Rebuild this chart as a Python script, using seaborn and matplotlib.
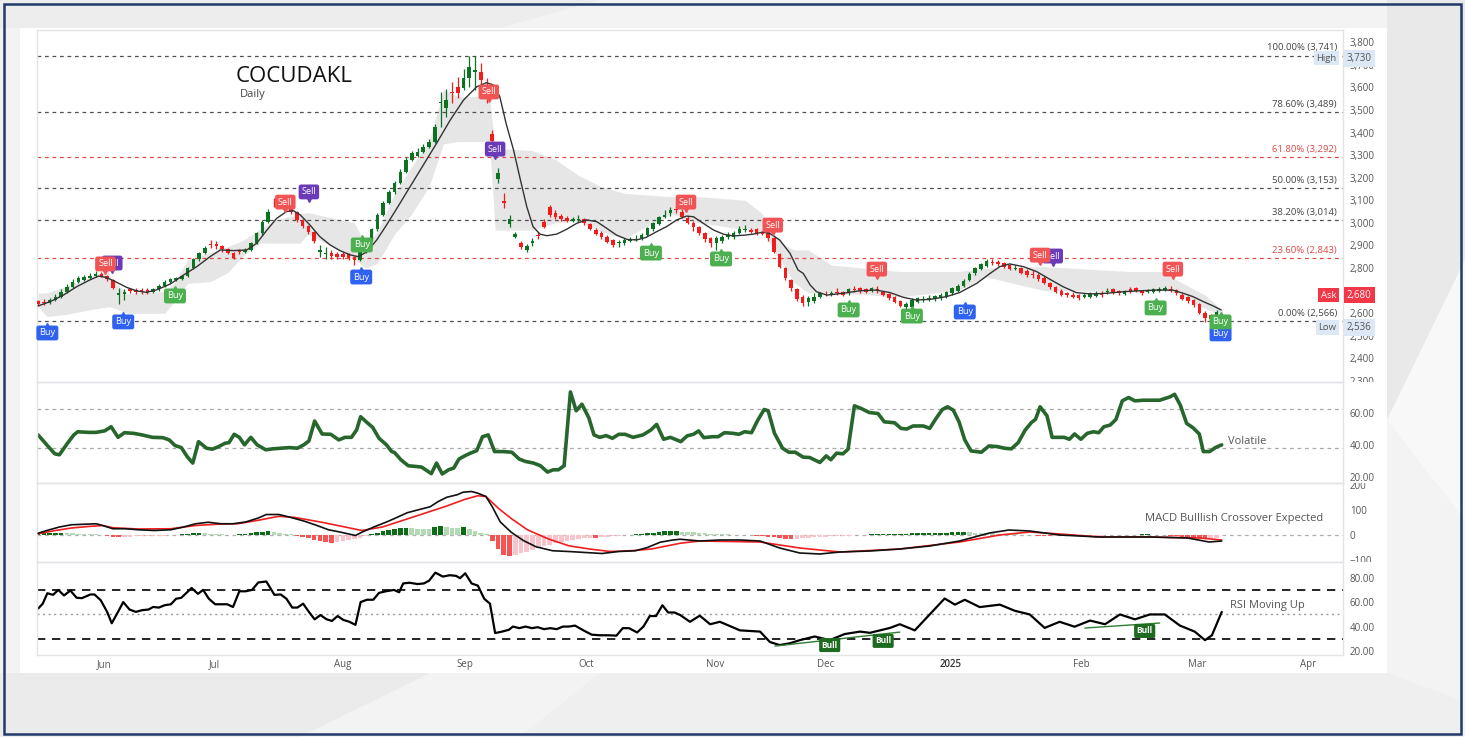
import numpy as np
import pandas as pd
import matplotlib
matplotlib.use("Agg")
import matplotlib.pyplot as plt
import matplotlib.transforms as mtrans
from matplotlib.patches import Rectangle, Polygon
import seaborn as sns

sns.set_style("white")
plt.rcParams['font.family'] = ['Open Sans', 'DejaVu Sans']

# ---------------- data ----------------
# daily candles, one per trading day, index 0..205
close = [2640, 2646, 2658, 2673, 2695, 2717, 2739, 2754, 2759, 2764,
         2772, 2766, 2750, 2713, 2688, 2695, 2698, 2695, 2695, 2695,
         2705, 2720, 2739, 2750, 2754, 2764, 2798, 2838, 2865, 2887,
         2902, 2897, 2883, 2868, 2846, 2872, 2880, 2909, 2953, 3005,
         3050, 3086, 3086, 3082, 3050, 3013, 2986, 2961, 2920, 2880,
         2868, 2853, 2850, 2850, 2846, 2835, 2872, 2924, 2971, 3035,
         3089, 3135, 3175, 3227, 3278, 3308, 3315, 3338, 3360, 3426,
         3537, 3545, 3577, 3574, 3640, 3690, 3677, 3633, 3560, 3364,
         3222, 3086, 3015, 2950, 2891, 2897, 2920, 2942, 2983, 3035,
         3024, 3015, 3010, 3018, 3018, 2998, 2974, 2950, 2936, 2915,
         2902, 2915, 2926, 2926, 2930, 2946, 2975, 2998, 3024, 3035,
         3057, 3055, 3027, 3001, 2980, 2956, 2930, 2909, 2931, 2938,
         2944, 2953, 2971, 2974, 2961, 2953, 2952, 2931, 2872, 2806,
         2754, 2710, 2661, 2643, 2665, 2673, 2688, 2682, 2691, 2688,
         2682, 2705, 2702, 2699, 2695, 2710, 2699, 2680, 2665, 2651,
         2632, 2640, 2658, 2665, 2664, 2668, 2676, 2680, 2693, 2710,
         2720, 2744, 2773, 2798, 2816, 2831, 2822, 2818, 2806, 2797,
         2802, 2779, 2769, 2767, 2750, 2735, 2714, 2694, 2682, 2679,
         2673, 2667, 2679, 2688, 2683, 2679, 2698, 2692, 2688, 2697,
         2694, 2698, 2688, 2701, 2705, 2708, 2711, 2699, 2688, 2664,
         2652, 2634, 2602, 2577, 2572, 2606]
open_ = [2652, 2650, 2646, 2658, 2673, 2695, 2717, 2739, 2748, 2755,
         2764, 2772, 2766, 2748, 2680, 2686, 2706, 2704, 2704, 2703,
         2695, 2705, 2720, 2739, 2748, 2752, 2764, 2798, 2838, 2865,
         2906, 2906, 2897, 2883, 2868, 2876, 2870, 2880, 2909, 2953,
         3005, 3090, 3100, 3095, 3082, 3050, 3013, 2986, 2961, 2870,
         2864, 2866, 2862, 2862, 2860, 2850, 2835, 2872, 2924, 2971,
         3035, 3089, 3135, 3175, 3227, 3278, 3296, 3315, 3338, 3360,
         3530, 3510, 3580, 3600, 3596, 3640, 3670, 3670, 3610, 3394,
         3193, 3098, 2995, 2938, 2912, 2880, 2909, 2946, 3005, 3072,
         3045, 3030, 3020, 3010, 3014, 3015, 2994, 2970, 2956, 2938,
         2924, 2910, 2909, 2921, 2924, 2931, 2946, 2971, 2995, 3027,
         3042, 3060, 3049, 3023, 3001, 2980, 2953, 2931, 2909, 2921,
         2938, 2936, 2956, 2968, 2968, 2971, 2958, 2961, 2931, 2862,
         2798, 2747, 2705, 2673, 2650, 2655, 2670, 2686, 2680, 2695,
         2692, 2688, 2708, 2710, 2708, 2699, 2705, 2695, 2685, 2670,
         2654, 2625, 2625, 2651, 2658, 2662, 2661, 2665, 2673, 2688,
         2700, 2720, 2747, 2776, 2794, 2809, 2828, 2825, 2820, 2812,
         2796, 2798, 2788, 2775, 2769, 2757, 2735, 2714, 2700, 2690,
         2680, 2679, 2673, 2673, 2677, 2691, 2692, 2705, 2699, 2685,
         2708, 2710, 2699, 2695, 2694, 2700, 2702, 2705, 2702, 2682,
         2670, 2658, 2640, 2602, 2592, 2584]
high = [2660, 2662, 2668, 2685, 2705, 2728, 2750, 2766, 2770, 2776,
        2785, 2780, 2770, 2752, 2712, 2705, 2712, 2712, 2712, 2712,
        2712, 2728, 2746, 2756, 2760, 2770, 2804, 2846, 2872, 2896,
        2925, 2918, 2902, 2888, 2872, 2885, 2888, 2916, 2960, 3012,
        3062, 3110, 3110, 3105, 3088, 3054, 3018, 2990, 2965, 2900,
        2895, 2880, 2872, 2870, 2866, 2855, 2878, 2930, 2978, 3042,
        3098, 3146, 3186, 3240, 3290, 3320, 3330, 3350, 3372, 3440,
        3580, 3595, 3625, 3645, 3680, 3740, 3741, 3710, 3640, 3410,
        3245, 3133, 3035, 2960, 2920, 2905, 2935, 2960, 3015, 3080,
        3056, 3040, 3030, 3028, 3035, 3022, 3000, 2976, 2962, 2945,
        2930, 2925, 2935, 2938, 2945, 2955, 2980, 3005, 3032, 3055,
        3070, 3075, 3060, 3030, 3008, 2986, 2960, 2936, 2940, 2945,
        2960, 2962, 2985, 2990, 2978, 2978, 2965, 2968, 2936, 2868,
        2805, 2752, 2712, 2680, 2675, 2690, 2695, 2700, 2698, 2710,
        2700, 2712, 2720, 2715, 2712, 2715, 2720, 2700, 2690, 2676,
        2660, 2648, 2666, 2672, 2676, 2680, 2682, 2690, 2700, 2716,
        2728, 2750, 2780, 2805, 2822, 2838, 2840, 2836, 2828, 2818,
        2812, 2805, 2795, 2790, 2776, 2763, 2740, 2720, 2705, 2695,
        2692, 2684, 2690, 2694, 2700, 2696, 2712, 2710, 2704, 2702,
        2715, 2715, 2704, 2708, 2710, 2714, 2718, 2720, 2706, 2688,
        2676, 2663, 2646, 2608, 2598, 2612]
low = [2630, 2636, 2640, 2652, 2668, 2690, 2712, 2734, 2742, 2750,
       2758, 2758, 2742, 2705, 2640, 2660, 2688, 2686, 2685, 2686,
       2690, 2700, 2716, 2734, 2744, 2748, 2760, 2794, 2832, 2860,
       2888, 2885, 2872, 2860, 2838, 2860, 2866, 2876, 2905, 2948,
       3000, 3070, 3076, 3070, 3040, 3005, 2978, 2952, 2912, 2848,
       2840, 2840, 2838, 2838, 2834, 2815, 2830, 2866, 2918, 2965,
       3030, 3084, 3130, 3170, 3222, 3272, 3290, 3310, 3332, 3354,
       3425, 3470, 3530, 3555, 3590, 3600, 3590, 3610, 3530, 3345,
       3175, 3064, 2983, 2931, 2885, 2873, 2898, 2930, 2975, 3025,
       3015, 3008, 3003, 3003, 3005, 2992, 2968, 2944, 2930, 2910,
       2895, 2895, 2900, 2915, 2918, 2925, 2940, 2965, 2990, 3020,
       3030, 3045, 3020, 2995, 2965, 2945, 2915, 2895, 2880, 2912,
       2930, 2928, 2950, 2960, 2955, 2946, 2945, 2920, 2866, 2800,
       2745, 2700, 2655, 2630, 2630, 2645, 2665, 2676, 2674, 2680,
       2675, 2682, 2695, 2690, 2688, 2692, 2690, 2675, 2660, 2645,
       2625, 2618, 2612, 2645, 2650, 2655, 2655, 2660, 2668, 2682,
       2695, 2715, 2742, 2770, 2790, 2804, 2815, 2810, 2800, 2790,
       2790, 2772, 2762, 2755, 2742, 2728, 2708, 2688, 2676, 2672,
       2665, 2660, 2665, 2668, 2670, 2673, 2685, 2686, 2682, 2680,
       2688, 2692, 2682, 2688, 2688, 2695, 2697, 2694, 2682, 2658,
       2646, 2628, 2596, 2560, 2536, 2570]

# smoothed average line (knots: bar index, price)
ma_x = [0, 2.1, 4.4, 6.7, 9, 10.5, 11.7, 13.1, 15.4, 17.2, 18.9, 20.6, 23, 25.3, 27.6, 29.9,
        31.7, 34, 36.3, 38, 39.8, 41.5, 43.2, 44.4, 45.6, 47.3, 49, 50.8, 52.5, 54.3, 55.7,
        57.2, 58.9, 60.6, 62.4, 64.7, 67, 69.3, 71.7, 74, 76.3, 78, 79.2, 80.3, 81.4, 82.7,
        83.9, 85, 86.1, 87.3, 88.5, 90.2, 91.9, 93.7, 95.4, 97.2, 98.9, 100.6, 102.4, 104.1,
        105.8, 107.6, 109.3, 111.1, 112.8, 114, 115.7, 117.5, 119.2, 120.9, 122.7, 124.4,
        126.1, 127.3, 129, 130.8, 132.2, 133.1, 134.3, 135.4, 137.2, 140.1, 142.9, 145.8,
        148.2, 150.5, 152.8, 155.2, 158, 160.3, 163.3, 165.6, 167.3, 169, 171.4, 173.7, 176,
        178.3, 180.6, 183, 185.9, 188.8, 191.7, 194.5, 197.4, 199.2, 200.9, 202.7, 204.4, 205.8]
ma_y = [2632, 2651, 2680, 2717, 2747, 2764, 2759, 2744, 2714, 2698, 2692, 2703, 2729, 2769, 2806, 2850,
        2880, 2877, 2880, 2909, 2968, 3020, 3050, 3054, 3035, 2990, 2939, 2902, 2877, 2858, 2850,
        2872, 2924, 2990, 3064, 3160, 3256, 3352, 3456, 3544, 3603, 3621, 3611, 3560, 3441, 3323,
        3190, 3072, 2983, 2950, 2943, 2950, 2971, 2998, 3013, 3005, 2976, 2946, 2927, 2924,
        2936, 2961, 2983, 3013, 3030, 3027, 2998, 2968, 2950, 2942, 2945, 2950,
        2959, 2953, 2924, 2865, 2791, 2776, 2725, 2695, 2680, 2688, 2699, 2702,
        2691, 2670, 2658, 2661, 2673, 2691, 2732, 2776, 2806, 2818, 2806, 2784, 2750,
        2717, 2691, 2685, 2688, 2695, 2699, 2702, 2702, 2688, 2673, 2651, 2632, 2614]

# grey cloud band (knots)
cloud_x = [0, 1.5, 5, 9, 12.2, 12.6, 15.5, 22, 23.5, 26, 30, 33, 35.5, 38.5, 41, 45.5, 47, 55,
           57, 59, 62, 65, 68, 70.5, 73, 78.5, 79.5, 86, 90, 94, 98, 102, 110, 115, 123, 126,
           128, 130, 131.5, 134, 138, 150, 160, 165, 175, 190, 196, 198, 203, 206]
cloud_hi = [2688, 2690, 2720, 2760, 2790, 2754, 2688, 2695, 2730, 2835, 2870, 2895, 2920, 2970,
            3010, 3040, 3045, 3000, 2900, 2960, 3130, 3250, 3360, 3590, 3560, 3560, 3330, 3320,
            3280, 3210, 3160, 3131, 3116, 3116, 3100, 3040, 2950, 2900, 2880, 2880, 2813, 2784,
            2784, 2800, 2806, 2784, 2784, 2747, 2680, 2614]
cloud_lo = [2628, 2585, 2595, 2615, 2628, 2628, 2599, 2599, 2645, 2732, 2740, 2780, 2850, 2910,
            2910, 2910, 2950, 2840, 2800, 2820, 2950, 3040, 3160, 3350, 3360, 3360, 2968, 2968,
            3000, 3010, 2960, 2930, 3040, 3000, 2970, 2960, 2880, 2800, 2735, 2690, 2690, 2673,
            2700, 2760, 2700, 2695, 2700, 2690, 2620, 2590]

# fibonacci levels
fib_pct = ["100.00%", "78.60%", "61.80%", "50.00%", "38.20%", "23.60%", "0.00%"]
fib_lvl = [3741, 3489, 3292, 3153, 3014, 2843, 2566]
fib_red = [False, False, True, False, False, True, False]

# buy / sell flags (bar index, price, kind)
sig_x = [12.9, 47.1, 79.5, 176.5,
         1.6, 11.7, 14.8, 23.8, 43, 56.3, 56.2, 78.4, 106.6, 112.7, 118.8, 127.8, 145.9,
         141, 152, 161.2, 174.3, 197.4, 194.4, 205.7, 205.7]
sig_y = [2822, 3137, 3327, 2853,
         2512, 2818, 2561, 2676, 3092, 2902, 2760, 3580, 2866, 3092, 2840, 2990, 2795,
         2614, 2587, 2605, 2857, 2795, 2623, 2508, 2561]
sig_kind = ["sell_p", "sell_p", "sell_p", "sell_p",
            "buy_b", "sell_r", "buy_b", "buy_g", "sell_r", "buy_g", "buy_b", "sell_r", "buy_g",
            "sell_r", "buy_g", "sell_r", "sell_r", "buy_g", "buy_g", "buy_b", "sell_r", "sell_r",
            "buy_g", "buy_b", "buy_g"]

# volatility
vol_x = [0, 1.5, 2.9, 3.7, 5.1, 6.2, 6.9, 8.7, 10.1, 11.6, 12.7, 13.9, 15.0, 16.6, 18.1, 19.9, 21.7,
         22.8, 23.8, 24.9, 26.0, 26.9, 27.9, 29.3, 30.3, 31.4, 32.5, 33.2, 34.1, 35.0, 35.9, 37.0,
         38.1, 39.6, 40.8, 42.2, 43.7, 45.1, 46.2, 47.1, 48.1, 49.4, 50.9, 52.3, 53.4, 54.5, 55.4,
         56.1, 57.2, 58.2, 59.3, 60.6, 61.5, 62.0, 63.1, 64.4, 65.7, 66.7, 68.4, 69.3, 70.3, 71.4,
         72.3, 73.2, 74.3, 75.2, 76.3, 77.3, 78.3, 79.4, 80.8, 82.4, 83.7, 84.8, 86.2, 87.4, 88.6,
         89.6, 90.5, 91.5, 92.6, 93.6, 94.6, 95.8, 96.7, 97.7, 98.8, 99.9, 101.0, 102.1, 103.5,
         105.2, 106.6, 107.6, 108.8, 110.0, 111.8, 112.9, 114.0, 114.9, 115.8, 117.3, 118.3, 119.4,
         120.9, 121.9, 122.9, 124.1, 125.2, 126.3, 127.0, 128.1, 129.5, 130.6, 131.7, 133.1, 134.2,
         136.0, 137.1, 137.9, 138.9, 140.0, 140.9, 142.0, 143.2, 144.6, 146.1, 147.2, 149.0, 150.1,
         151.1, 152.2, 154.0, 155.1, 156.2, 157.3, 158.2, 159.2, 160.2, 161.2, 162.3, 164.1, 165.4,
         166.9, 168.1, 169.3, 170.5, 171.7, 172.8, 173.5, 174.3, 175.5, 176.4, 177.8, 178.5, 179.4,
         180.3, 181.4, 182.5, 183.6, 184.5, 185.4, 186.5, 187.5, 188.6, 189.7, 190.8, 192.2, 193.7,
         195.1, 196.9, 197.7, 198.7, 199.8, 200.9, 202.0, 202.7, 203.8, 204.8, 205.9]
vol_y = [46.3, 40.1, 34.5, 33.9, 41.1, 46.3, 48.3, 47.9, 47.9, 48.9, 51.4, 44.8, 47.7, 47.3, 46.3, 44.8, 44.6,
         43.2, 39.7, 38.4, 32.4, 28.7, 42.1, 38.0, 37.4, 39.0, 41.1, 41.5, 46.7, 44.8, 40.1, 44.8,
         40.1, 37.0, 37.6, 38.0, 38.4, 38.0, 40.1, 42.5, 55.0, 46.9, 46.7, 43.2, 44.8, 44.8, 49.4,
         57.7, 54.1, 51.0, 44.2, 40.1, 35.9, 35.3, 30.8, 27.0, 26.6, 26.2, 22.1, 28.7, 21.9, 24.5,
         25.6, 31.2, 33.4, 34.9, 36.5, 45.2, 46.3, 35.9, 35.9, 35.5, 31.2, 29.7, 28.7, 27.0, 23.1,
         24.5, 24.5, 27.0, 73.2, 61.4, 65.5, 57.0, 46.3, 44.8, 45.9, 44.2, 46.7, 46.7, 44.8,
         46.3, 49.4, 52.9, 43.6, 44.8, 42.1, 45.7, 46.7, 48.8, 44.6, 45.2, 45.2, 47.7,
         47.3, 46.7, 48.3, 47.7, 55.6, 62.2, 61.4, 47.3, 38.0, 35.5, 35.5, 32.4, 32.2,
         29.1, 33.2, 30.8, 34.9, 34.5, 37.4, 64.5, 62.8, 60.3, 59.7, 54.5, 53.9, 50.4,
         50.0, 51.9, 51.9, 50.4, 56.6, 62.2, 63.9, 61.8, 54.5, 43.2, 36.3, 35.5, 39.4,
         39.0, 38.0, 37.6, 41.5, 49.3, 54.1, 56.0, 63.9, 58.3, 44.8, 44.8, 44.8, 43.6,
         46.9, 43.6, 47.3, 48.3, 47.7, 51.4, 52.5, 56.0, 67.6, 69.7, 67.6, 68.0, 68.0,
         68.0, 70.1, 71.7, 64.9, 53.5, 50.8, 46.9, 35.9, 35.9, 38.4, 40.1]

# MACD, signal and histogram
macd_x = [0, 1.5, 3.7, 5.8, 8, 10.1, 11.2, 13, 15.2, 17.4, 20.2, 23.1, 25.3, 27.4, 29.6, 31.8, 33.9,
          36.1, 38.3, 39.7, 41.9, 44, 46.2, 48.4, 50.5, 52.7, 55.2, 56.3, 58.4, 60.6, 62, 64.2, 66,
          68.2, 69.6, 71.1, 72.9, 73.9, 75.4, 76.5, 77.9, 79, 80.4, 82.3, 84.4, 86.6, 89.5, 92.3,
          95.2, 98.1, 101, 103.9, 106, 108.2, 110.4, 111.7, 115.1, 118.6, 122.1, 125.6, 129, 132.5,
          136, 139.5, 144.7, 149.9, 155.1, 160.3, 165.5, 168.9, 172.5, 177.7, 184.7, 193.4, 200,
          203.7, 205.9]
macd_y = [7, 18, 32, 41, 43, 45, 38, 25, 25, 21, 18, 21, 32, 45, 51, 45, 45,
          52, 68, 82, 82, 70, 56, 39, 21, 11, -2, 11, 32, 52, 66, 89, 100,
          113, 134, 151, 161, 171, 174, 167, 154, 113, 52, 11, -22, -47, -63, -66,
          -70, -74, -66, -63, -50, -29, -20, -17, -24, -20, -20, -24, -52, -72,
          -76, -68, -64, -56, -44, -24, 8, 20, 16, 0, -8, -8, -12,
          -28, -24]
sig_line_x = [0, 3, 5.8, 8.7, 11.2, 13, 17.4, 23.1, 27.4, 31.1, 34.7, 38.3, 41.9, 44.7, 49.1, 53.4,
              56.3, 59.9, 63.5, 67.1, 70.7, 74.3, 76.5, 77.9, 80.1, 82.3, 85.1, 88.8, 92.3, 95.9,
              99.5, 103.1, 106.7, 111.7, 115.1, 125.6, 132.5, 139.5, 149.9, 160.3, 167.3, 172.5,
              177.7, 184.7, 193.4, 202.1, 205.9]
sig_line_y = [5, 18, 28, 34, 38, 29, 24, 25, 38, 43, 45, 59, 75, 70, 52, 32,
              18, 32, 59, 86, 113, 143, 157, 154, 106, 66, 21, -16, -43, -56,
              -66, -63, -56, -33, -24, -28, -52, -68, -56, -28, 0, 12,
              4, -8, -8, -12, -20]
hist = [6, 8, 9, 10, 10, 9, 7, 6, 5, 4, 3, 2, -3, -6, -8, -7, -6, -5,
        -4, -3, -3, -2, -2, -1, 2, 4, 6, 8, 10, 8, 6, 4, 3, 2, 1,
        3, 6, 9, 12, 14, 16, 12, 9, 6, 3, -4, -8, -13, -18, -22, -26, -30,
        -28, -24, -20, -15, -10, -4, 4, 10, 16, 20, 24, 27, 28, 27, 26, 25, 24,
        32, 37, 33, 30, 29, 31, 25, 18, 10, 4, -25, -55, -80, -84,
        -78, -72, -66, -58, -50, -44, -38, -32, -27, -22, -18, -15, -12,
        -10, -11, -9, -7, -4, -2, 1, 2, 4, 6, 8, 10, 12, 15, 16, 16,
        14, 12, 11, 9, 8, 6, 5, 4, 3, 2, 1, 0.5, -1, -2, -4,
        -6, -9, -12, -14, -16, -15, -13, -11, -9, -8, -6, -5, -4, -3, -2, -1,
        1, 2, 3, 3, 4, 5, 5, 6, 6, 7, 7, 8, 8, 9, 10, 10, 11, 12,
        12, 11, 10, 9, 8, 7, 6, 5, 4, 3, 2, 1, -1, -2, -3, -4, -4, -5,
        -5, -4, -4, -3, -3, -2, -2, -1, -1, 0.5, 1, 2, 2, 3, 3, 2, 1,
        -1, -3, -5, -7, -9, -11, -12, -13, -12, -10]

# RSI
rsi_x = [0, 0.8, 1.6, 2.6, 3.5, 4.5, 5.6, 6.7, 7.6, 9.1, 9.8, 10.9, 12, 12.8, 13.9, 14.8, 15.9, 17,
         18.1, 19.2, 20, 21, 22, 23.1, 24, 24.9, 25.9, 26.7, 27.8, 28.7, 29.7, 30.8, 31.8, 32.9,
         33.9, 35, 36.1, 37.2, 38.3, 39.7, 41.1, 42.2, 43.2, 44.2, 45.1, 46.1, 47.1, 48.1, 49.1,
         50.2, 51.1, 52.1, 53.1, 54.1, 55.2, 56.1, 57.2, 58.3, 59.3, 60.5, 61.9, 62.8, 63.5, 64.6,
         66, 67.1, 68, 69.1, 70.4, 71.6, 72.7, 73.4, 74.3, 75.4, 76.5, 77.6, 78.6, 79.5, 80.8,
         81.9, 82.6, 83.7, 84.8, 85.9, 86.9, 88, 89.1, 90.2, 91.3, 92.3, 93.4, 94.9, 96.3, 97.7,
         99.2, 100.6, 101.7, 102.8, 104.2, 105.3, 106.4, 107.5, 108.6, 109.6, 110.7, 111.7,
         113.4, 115.1, 116.9, 118.6, 122.1, 125.6, 127.3, 129, 130.8, 132.5, 135.1, 137.7,
         140.3, 143, 144.7, 148.2, 149.9, 152.5, 155.1, 157.7, 159.5, 161.2, 163.8, 167.3,
         169.9, 172.5, 175.1, 177.7, 180.3, 183, 185.6, 188.2, 190.8, 193.4, 196, 198.6,
         201.2, 203, 204.2, 205.9]
rsi_y = [54.8, 58.8, 67.3, 66.0, 70.0, 65.5, 69.5, 63.6, 63.3, 66.3, 66.3, 61.5, 52.1, 42.8, 52.1, 60.1, 54.0, 52.1,
         53.5, 54.0, 56.1, 55.6, 57.5, 58.3, 62.8, 63.6, 68.1, 71.6, 66.8, 70.0, 62.8, 58.3, 58.3, 58.3,
         56.1, 68.9, 68.9, 70.0, 76.1, 76.9, 66.0, 66.3, 62.8, 55.6, 55.6, 58.8, 52.1, 46.0, 49.5,
         46.0, 44.7, 48.7, 45.5, 44.1, 41.5, 60.1, 62.0, 62.0, 67.6, 68.9, 70.0, 68.1, 75.3, 75.9,
         74.8, 75.3, 77.5, 84.1, 80.9, 82.0, 81.5, 79.6, 83.6, 75.3, 73.5, 62.8, 58.8, 34.8, 36.1,
         37.5, 40.1, 38.8, 40.1, 38.8, 39.6, 38.0, 38.8, 38.0, 40.1, 40.1, 40.9, 36.9, 33.5, 33.0,
         33.0, 32.7, 38.8, 38.8, 35.3, 40.1, 48.7, 48.7, 57.5, 51.6, 51.6, 49.5,
         44, 49, 42, 44, 37, 36, 27.5, 25,
         26.5, 29, 32, 29, 34, 36, 35, 39, 42, 37, 50, 63, 58, 62, 56, 58,
         53, 50, 39, 44, 40, 45, 42, 50, 46, 50, 50, 41,
         36, 29, 33, 52]

# bullish divergence lines on RSI
bull_x = [(128.2, 149.9), (182.1, 195.1)]
bull_y = [(24.2, 35.6), (38.9, 43.0)]
bull_lab_x = [137.7, 147, 192.5]
bull_lab_y = [25, 28.4, 36.5]

month_pos = [11.5, 30.6, 53, 74.2, 95.3, 117.7, 137, 158.8, 181.4, 201.6, 221]
month_lab = ["Jun", "Jul", "Aug", "Sep", "Oct", "Nov", "Dec", "2025", "Feb", "Mar", "Apr"]

# ---------------- figure ----------------
W, H = 1465, 737
fig = plt.figure(figsize=(14.65, 7.37), dpi=100)
fig.patch.set_facecolor("#f3f3f3")


def px(x, y):
    return (x / W, 1 - y / H)


def box(x0, y0, x1, y1):
    return [x0 / W, 1 - y1 / H, (x1 - x0) / W, (y1 - y0) / H]


# faint background shapes + white card
for pts, col in [([(0, 673), (430, 673), (300, 737), (0, 737)], "#ebebeb"),
                 ([(600, 673), (1387, 673), (1460, 700), (1460, 737), (520, 737)], "#efefef"),
                 ([(1387, 0), (1465, 0), (1465, 260), (1387, 420)], "#e9e9e9"),
                 ([(1387, 420), (1465, 260), (1465, 520)], "#f8f8f8"),
                 ([(0, 0), (600, 0), (500, 28), (0, 28)], "#ededed")]:
    fig.patches.append(Polygon([px(*p) for p in pts], closed=True, transform=fig.transFigure,
                               facecolor=col, edgecolor="none", zorder=-3))
fig.patches.append(Rectangle(px(20, 673), 1367 / W, 645 / H, transform=fig.transFigure,
                             facecolor="white", edgecolor="none", zorder=-2))
fig.patches.append(Rectangle(px(4, 734), 1457 / W, 730 / H, transform=fig.transFigure,
                             facecolor="none", edgecolor="#22396a", linewidth=1.8, zorder=10))

ax_p = fig.add_axes(box(37, 30, 1343, 382))
ax_v = fig.add_axes(box(37, 382, 1343, 483))
ax_m = fig.add_axes(box(37, 483, 1343, 562))
ax_r = fig.add_axes(box(37, 562, 1343, 655))
axes = [ax_p, ax_v, ax_m, ax_r]

GREEN, RED = "#0d7323", "#f21c1c"
GRID = "#e3e4e8"
TXT = "#555555"

for ax in axes:
    ax.set_zorder(1)
    ax.set_facecolor("none")
    for s in ax.spines.values():
        s.set_color(GRID)
        s.set_linewidth(1)
    ax.yaxis.tick_right()
    ax.tick_params(axis="y", length=0, pad=5, labelsize=7, labelcolor=TXT)
    ax.tick_params(axis="x", length=0, labelsize=7, labelcolor=TXT)
    ax.set_xticks([])

# ---- price panel ----
ax_p.fill_between(cloud_x, cloud_lo, cloud_hi, color="#e6e6e6", linewidth=0, zorder=1)

bar_x = np.arange(len(close))
c_arr, o_arr = np.array(close), np.array(open_)
cols = np.where(c_arr >= o_arr, GREEN, RED)
ax_p.vlines(bar_x, low, high, colors=cols, linewidth=0.9, zorder=3)
ax_p.bar(bar_x, np.maximum(np.abs(c_arr - o_arr), 4), bottom=np.minimum(c_arr, o_arr),
         width=0.62, color=cols, linewidth=0, zorder=4)

sns.lineplot(x=ma_x, y=ma_y, ax=ax_p, color="#333333", linewidth=1.0, sort=False,
             estimator=None, zorder=5)

blend = mtrans.blended_transform_factory(ax_p.transAxes, ax_p.transData)
for pct, lvl, red in zip(fib_pct, fib_lvl, fib_red):
    col = "#e04848" if red else "#505050"
    ax_p.axhline(lvl, color=col, linewidth=0.9, linestyle=(0, (3, 3)), zorder=2)
    ax_p.text(0.9954, lvl + 14, f"{pct} ({lvl:,})", transform=blend, ha="right", va="bottom",
              fontsize=6.8, color=("#e04848" if red else "#444444"))

SIG_COL = {"sell_r": "#f05454", "sell_p": "#6a3ab8", "buy_g": "#4caf50", "buy_b": "#2f62f0"}
for sx, sy, kind in zip(sig_x, sig_y, sig_kind):
    col = SIG_COL[kind]
    is_sell = kind.startswith("sell")
    ax_p.plot(sx, sy - 30 if is_sell else sy + 30, marker="v" if is_sell else "^",
              markersize=4, color=col, zorder=6)
    ax_p.text(sx, sy, "Sell" if is_sell else "Buy", ha="center", va="center", fontsize=6.6,
              color="white", zorder=7,
              bbox=dict(boxstyle="round,pad=0.32,rounding_size=0.25", fc=col, ec="none"))

ax_p.set_ylim(2294.8, 3854.5)
ax_p.set_yticks(list(range(2300, 3900, 100)))
ax_p.set_yticklabels([f"{v:,}" for v in range(2300, 3900, 100)])
ax_p.set_xlabel("")
ax_p.set_ylabel("")

for val, lab, fc, tc in [(3730, "High", "#dce8f6", TXT), (2680, "Ask", "#f23645", "white"),
                         (2536, "Low", "#dce8f6", TXT)]:
    bb = dict(boxstyle="square,pad=0.3", fc=fc, ec="none")
    ax_p.text(0.995, val, lab, transform=blend, ha="right", va="center", fontsize=6.8,
              color=tc, bbox=bb, zorder=8)
    ax_p.text(1.003, val, f"{val:,}", transform=blend, ha="left", va="center", fontsize=7,
              color=tc, bbox=bb, zorder=8)

fig.text(236 / W, 1 - 76 / H, "COCUDAKL", fontsize=16, color="#111111", va="center", ha="left")
fig.text(240 / W, 1 - 95 / H, "Daily", fontsize=8, color="#444444", va="center", ha="left")

# ---- volatility panel ----
for lvl in (62.5, 38):
    ax_v.axhline(lvl, color="#a8a8a8", linewidth=0.9, linestyle=(0, (3, 3)))
sns.lineplot(x=vol_x, y=vol_y, ax=ax_v, color="#27662c", linewidth=2.6, sort=False, estimator=None)
ax_v.set_ylim(16.25, 79.4)
ax_v.set_yticks([20, 40, 60])
ax_v.set_yticklabels(["20.00", "40.00", "60.00"])
ax_v.set_xlabel("")
ax_v.set_ylabel("")
ax_v.text(207, 42.5, "Volatile", fontsize=8, color=TXT, va="center", ha="left")

# ---- MACD panel ----
ax_m.axhline(0, color="#b0b0b0", linewidth=0.9, linestyle=(0, (3, 3)))
h_cols = []
for k, v in enumerate(hist):
    prev = hist[k - 1] if k else 0
    if v >= 0:
        h_cols.append("#0e6b16" if v >= prev else "#b3d9b5")
    else:
        h_cols.append("#f45454" if v < prev else "#f8c3ca")
ax_m.bar(bar_x, hist, width=0.8, color=h_cols, linewidth=0, zorder=2)
sns.lineplot(x=sig_line_x, y=sig_line_y, ax=ax_m, color="#f01e1e", linewidth=1.2, sort=False,
             estimator=None, zorder=3)
sns.lineplot(x=macd_x, y=macd_y, ax=ax_m, color="#111111", linewidth=1.2, sort=False,
             estimator=None, zorder=4)
ax_m.set_ylim(-108, 208)
ax_m.set_yticks([-100, 0, 100, 200])
ax_m.set_yticklabels(["\u2212100", "0", "100", "200"])
ax_m.set_xlabel("")
ax_m.set_ylabel("")
ax_m.text(192.5, 68, "MACD Bulllish Crossover Expected", fontsize=8, color=TXT, va="center",
          ha="left")

# ---- RSI panel ----
for lvl in (70, 30):
    ax_r.axhline(lvl, color="black", linewidth=1.2, linestyle=(0, (5, 4)))
ax_r.axhline(50, color="#9a9a9a", linewidth=1.0, linestyle=(0, (1.5, 2.5)))
sns.lineplot(x=rsi_x, y=rsi_y, ax=ax_r, color="black", linewidth=1.6, sort=False, estimator=None)
for bx, by in zip(bull_x, bull_y):
    ax_r.plot(bx, by, color="#2e7d32", linewidth=1.0, zorder=3)
for lx, ly in zip(bull_lab_x, bull_lab_y):
    ax_r.text(lx, ly, "Bull", fontsize=6, color="white", fontweight="bold", ha="center",
              va="center", zorder=5,
              bbox=dict(boxstyle="round,pad=0.3,rounding_size=0.2", fc="#1d6b21", ec="none"))
ax_r.set_ylim(16.9, 92.8)
ax_r.set_yticks([20, 40, 60, 80])
ax_r.set_yticklabels(["20.00", "40.00", "60.00", "80.00"])
ax_r.set_ylabel("")
ax_r.text(207.3, 56.9, "RSI Moving Up", fontsize=8, color=TXT, va="center", ha="left")
ax_r.set_xticks(month_pos)
ax_r.set_xticklabels(month_lab)
ax_r.set_xlabel("")
ax_r.tick_params(axis="x", pad=3)
for t in ax_r.get_xticklabels():
    if t.get_text() == "2025":
        t.set_fontweight("semibold")
        t.set_color("#333333")

for ax in axes:
    ax.set_xlim(-0.2, 227)

# clip y tick labels to their own panel height
for ax in axes:
    clip = mtrans.TransformedBbox(mtrans.Bbox([[0, 0], [1.2, 1]]), ax.transAxes)
    for t in ax.get_yticklabels():
        t.set_clip_box(clip)
        t.set_clip_on(True)

fig.savefig("out.png", dpi=100, facecolor=fig.get_facecolor())
